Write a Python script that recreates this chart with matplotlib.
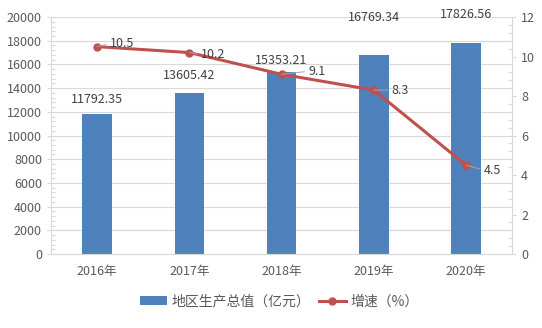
import matplotlib
matplotlib.use("Agg")
import matplotlib.pyplot as plt
from matplotlib.ticker import MultipleLocator

plt.rcParams['font.family'] = ['Noto Sans CJK SC', 'DejaVu Sans']

years = ["2016年", "2017年", "2018年", "2019年", "2020年"]
gdp = [11792.35, 13605.42, 15353.21, 16769.34, 17826.56]
growth = [10.5, 10.2, 9.1, 8.3, 4.5]

bar_color = "#4F81BD"
line_color = "#C0504D"
text_color = "#595959"
label_color = "#404040"
grid_color = "#D9D9D9"

fig = plt.figure(figsize=(5.42, 3.28), dpi=100)
ax = fig.add_axes([0.094, 0.2256, 0.851, 0.7225])
ax2 = ax.twinx()

x = list(range(len(years)))
ax.bar(x, gdp, width=0.32, color=bar_color, zorder=2, label="地区生产总值（亿元）")
ax.set_ylim(0, 20000)
ax.set_xlim(-0.5, len(years) - 0.5)
ax.yaxis.set_major_locator(MultipleLocator(2000))
ax.yaxis.set_minor_locator(MultipleLocator(400))
ax.grid(axis='y', color=grid_color, linewidth=0.8, zorder=0)
ax.set_axisbelow(True)
ax.set_xticks(x)
ax.set_xticklabels(years)

bar_label_off = [15, 17, 12, 38, 28]
for i, v in enumerate(gdp):
    ax.annotate(f"{v:.2f}", (i, v), xytext=(0, bar_label_off[i]), textcoords='offset pixels',
                ha='center', va='center', fontsize=9, color=label_color)

ax2.plot(x, growth, color=line_color, linewidth=2.2, marker='o', markersize=5, zorder=3, label="增速（%）")
ax2.set_ylim(0, 12)
ax2.yaxis.set_major_locator(MultipleLocator(2))
ax2.yaxis.set_minor_locator(MultipleLocator(0.4))

line_label_off = [(13, 3), (12, -2), (27, 3), (18, 0), (18, -5)]
for i, v in enumerate(growth):
    dx, dy = line_label_off[i]
    ax2.annotate(f"{v}", (i, v), xytext=(dx, dy), textcoords='offset pixels',
                 ha='left', va='center', fontsize=9, color=label_color, zorder=4,
                 arrowprops=dict(arrowstyle='-', color="#A6A6A6", linewidth=0.7,
                                 shrinkA=1, shrinkB=0, relpos=(0, 0.5)))

for a in (ax, ax2):
    a.spines['top'].set_visible(False)
    a.tick_params(axis='y', which='major', labelsize=9, labelcolor=text_color, length=3,
                  width=0.8, color=grid_color, direction='out')
    a.tick_params(axis='y', which='minor', length=3, width=0.8, color=grid_color, direction='in')
ax.tick_params(axis='x', length=0, labelsize=9, labelcolor=text_color, pad=8)
ax.spines['left'].set_color(grid_color)
ax.spines['right'].set_visible(False)
ax.spines['bottom'].set_color(grid_color)
ax2.spines['right'].set_color(grid_color)
ax2.spines['left'].set_visible(False)
ax2.spines['bottom'].set_visible(False)

h1, l1 = ax.get_legend_handles_labels()
h2, l2 = ax2.get_legend_handles_labels()
fig.legend(h1 + h2, l1 + l2, loc='center', bbox_to_anchor=(0.515, 0.08), ncol=2, frameon=False,
           fontsize=10, labelcolor=text_color, handlelength=2.0, handleheight=0.6,
           columnspacing=0.6, handletextpad=0.3)

fig.savefig("out.png", dpi=100)
